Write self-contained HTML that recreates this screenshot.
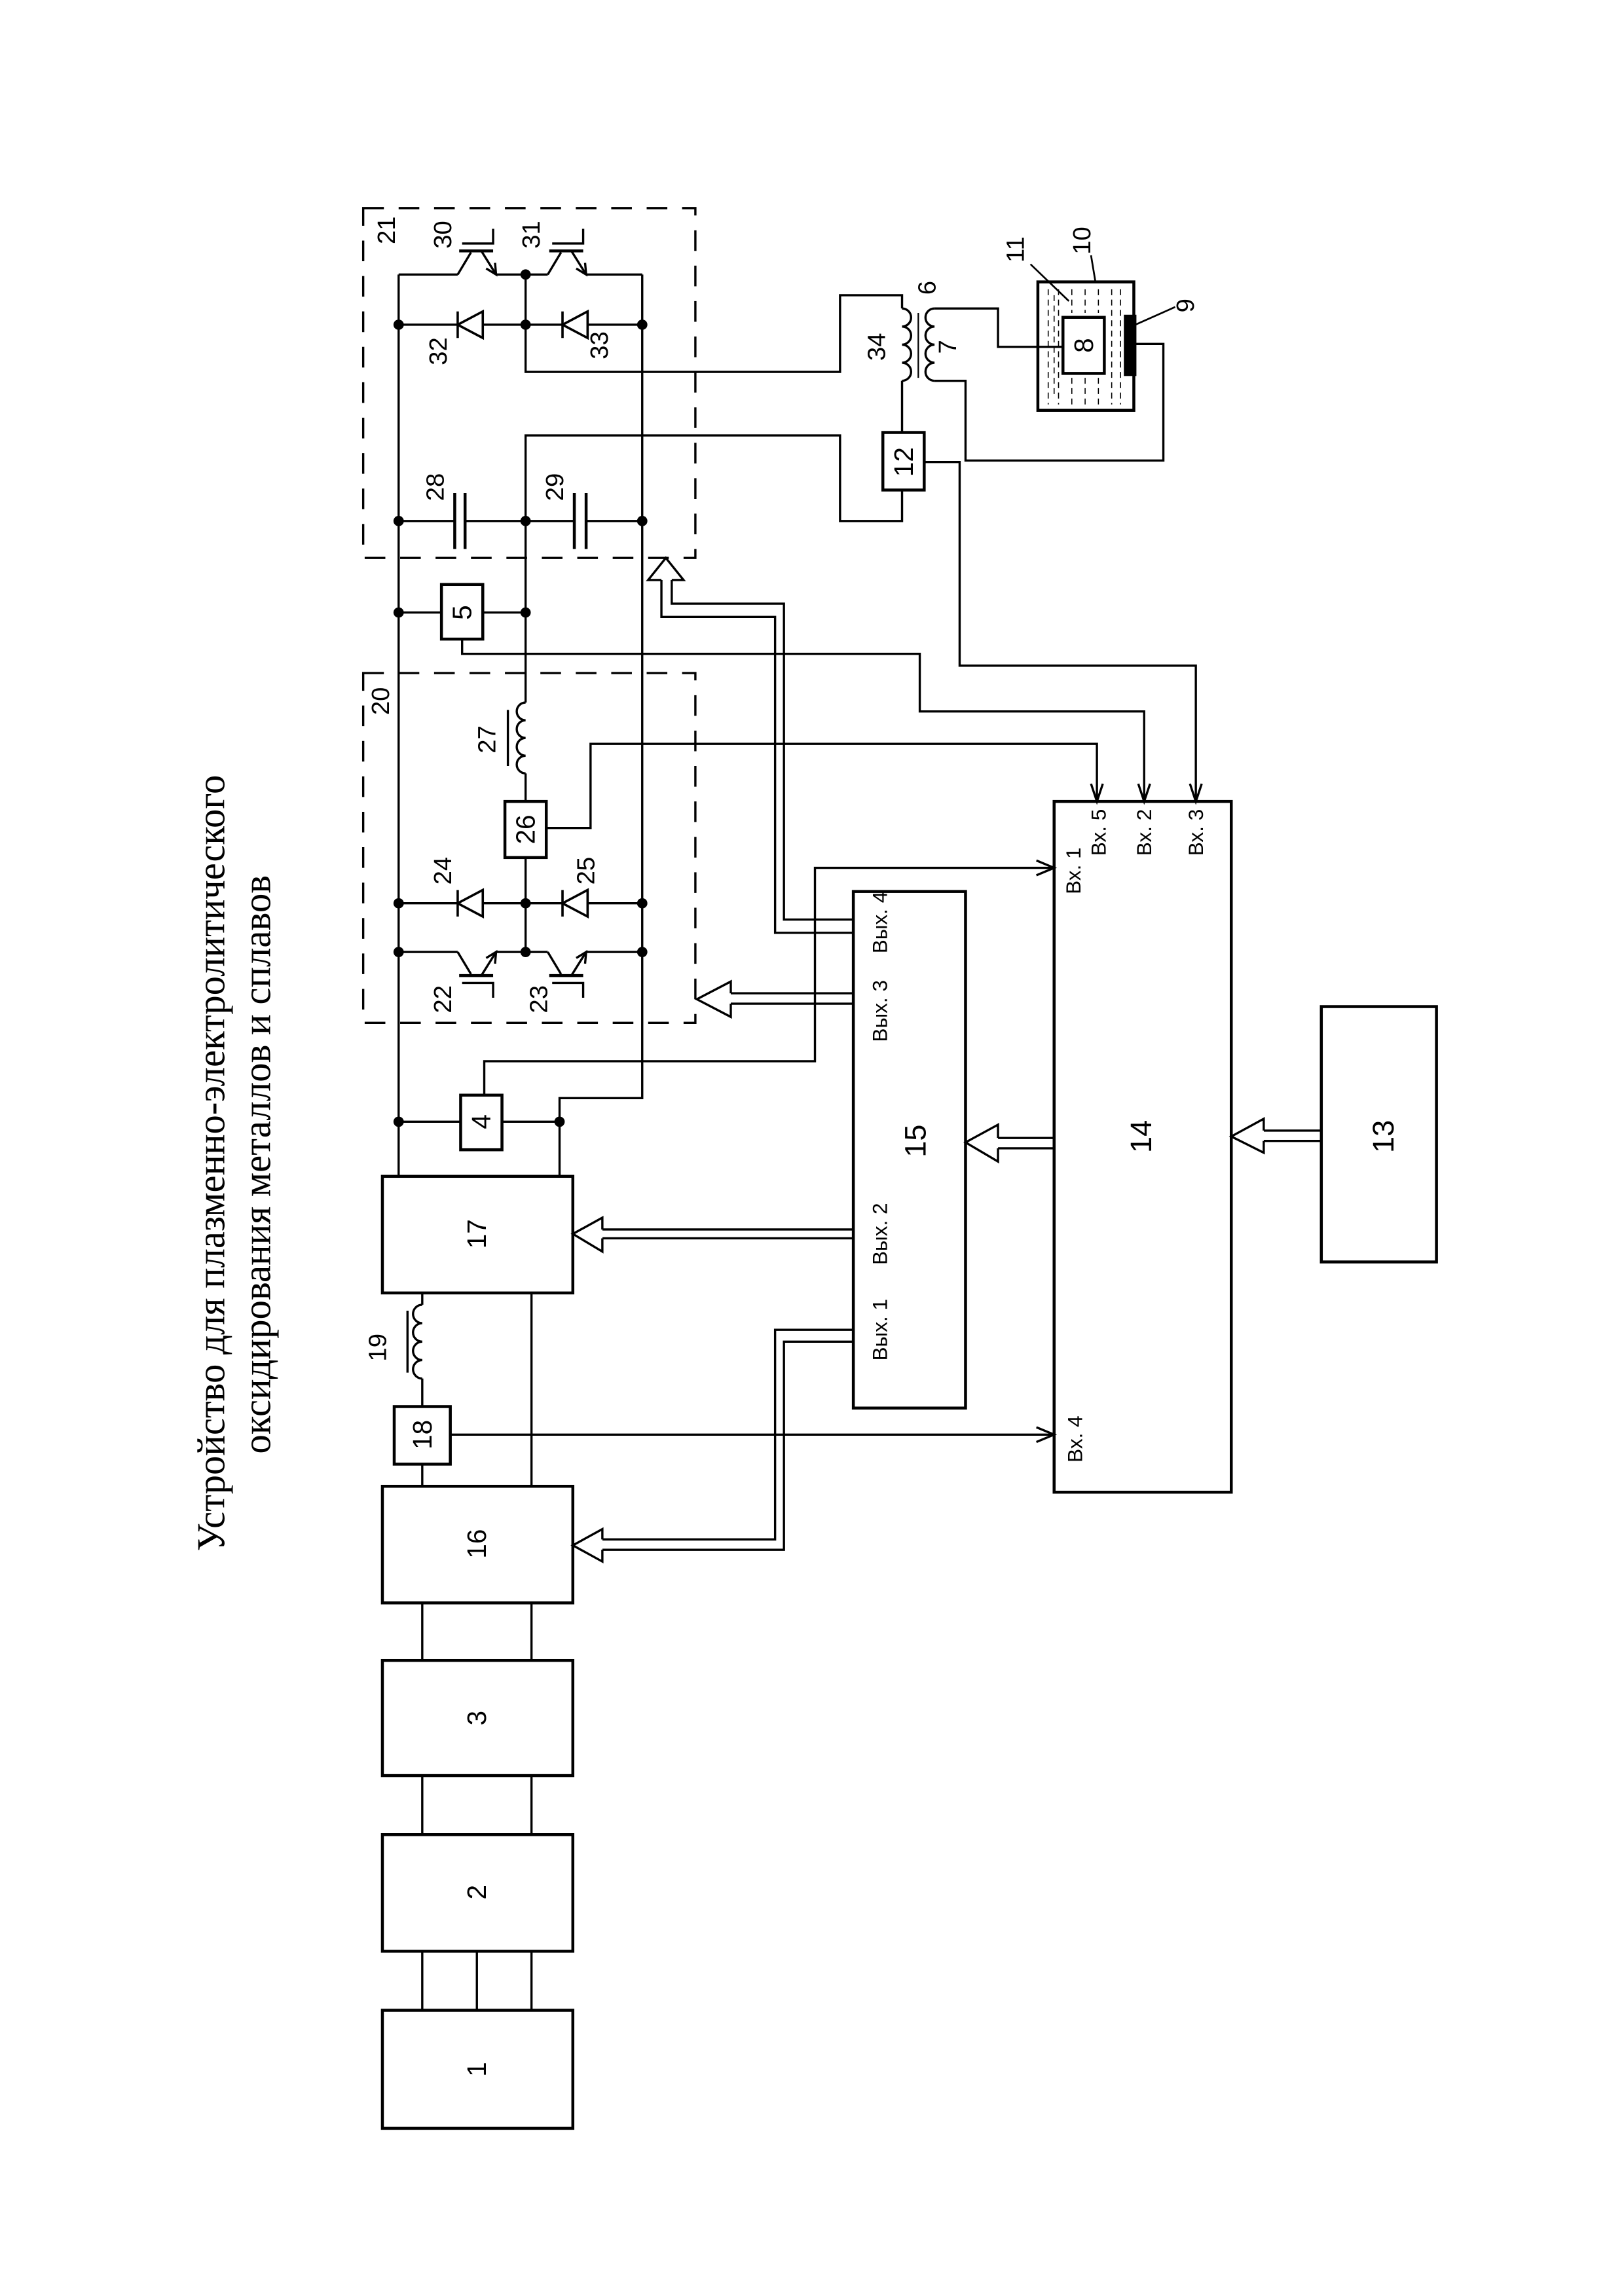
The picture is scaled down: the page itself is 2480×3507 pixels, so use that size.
<!DOCTYPE html>
<html><head><meta charset="utf-8">
<style>
html,body{margin:0;padding:0;background:#fff;}
svg{display:block;}
text{font-family:"Liberation Sans","DejaVu Sans",sans-serif;fill:#000;}
</style></head>
<body>
<svg xmlns="http://www.w3.org/2000/svg" width="2480" height="3507" viewBox="0 0 1100 1555.6">
<rect x="0" y="0" width="1100" height="1555.6" fill="#fff"/>
<g fill="none" stroke="#000" stroke-width="1.5" stroke-linecap="square">

<!-- title -->
</g>
<text transform="translate(152,788) rotate(-90)" text-anchor="middle" style="font-family:'Liberation Serif',serif" font-size="27" textLength="526" lengthAdjust="spacingAndGlyphs">Устройство для плазменно-электролитического</text>
<text transform="translate(183,789) rotate(-90)" text-anchor="middle" style="font-family:'Liberation Serif',serif" font-size="27" textLength="392" lengthAdjust="spacingAndGlyphs">оксидирования металлов и сплавов</text>

<g fill="none" stroke="#000" stroke-width="1.5">
<!-- dashed blocks -->
<rect x="246" y="141" width="225" height="237" stroke-dasharray="14 10"/>
<rect x="246" y="456" width="225" height="237" stroke-dasharray="14 10"/>

<!-- rails -->
<path d="M270 186 V797"/>
<path d="M435 186 V744 H379 V797"/>
<path d="M270 186 H310 M336 186 H371 M397 186 H435"/>
<path d="M356 186 V252 H569 V200 H611 V209"/>
<path d="M611 258 V293"/>
<path d="M611 332 V353 H569 V295 H356 V476"/>
<path d="M356 524 V543 M356 581 V645"/>
<path d="M270 645 H310 M336 645 H371 M397 645 H435"/>

<!-- diode rows -->
<path d="M270 220 H435"/>
<path d="M270 612 H435"/>
<!-- capacitor row -->
<path d="M270 353 H308 M315 353 H389 M397 353 H435"/>
<path d="M308 334 V372 M315 334 V372 M389 334 V372 M397 334 V372" stroke-width="2"/>

<!-- 5 row -->
<path d="M270 415 H299 M327 415 H356"/>
<rect x="299" y="396" width="28" height="37" stroke-width="2"/>
<path d="M313 433 V443 H623 V482 H775 V543"/>
<polyline points="771,531 775,543 779,531"/>

<!-- 12 -->
<rect x="598" y="293" width="28" height="39" stroke-width="2"/>
<path d="M626 313 H650 V451 H810 V543"/>
<polyline points="806,531 810,543 814,531"/>

<!-- 26 -->
<rect x="342" y="543" width="28" height="38" stroke-width="2"/>
<path d="M370 561 H400 V504 H743 V543"/>
<polyline points="739,531 743,543 747,531"/>

<!-- inductor 27 -->
<path d="M356 476 a6 6 0 0 0 0 12 a6 6 0 0 0 0 12 a6 6 0 0 0 0 12 a6 6 0 0 0 0 12"/>
<path d="M344 481 V519"/>

<!-- transformer -->
<path d="M611 209 a6.1 6.1 0 0 1 0 12.25 a6.1 6.1 0 0 1 0 12.25 a6.1 6.1 0 0 1 0 12.25 a6.1 6.1 0 0 1 0 12.25"/>
<path d="M633 209 a6.1 6.1 0 0 0 0 12.25 a6.1 6.1 0 0 0 0 12.25 a6.1 6.1 0 0 0 0 12.25 a6.1 6.1 0 0 0 0 12.25"/>
<path d="M622 212 V256" stroke-width="1"/>
<path d="M633 209 H676 V235 H720"/>
<path d="M633 258 H654 V312 H788 V233 H769"/>

<!-- vessel -->
<rect x="703" y="191" width="65" height="87" stroke-width="2"/>
<g stroke-width="0.7" stroke-dasharray="4 3">
<path d="M710 196 V274 M717 196 V274 M726 196 V212 M735 196 V212 M744 196 V212 M753 196 V274 M759 196 V274 M726 256 V274 M735 256 V274 M744 256 V274 M714 200 V270"/>
</g>
<rect x="720" y="215" width="28" height="38" stroke-width="2" fill="#fff"/>
<rect x="762" y="214" width="7" height="40" fill="#000"/>
<path d="M698 179 L724 204 M739 173 L742 191 M796 208 L769 220" stroke-width="1.2"/>

<!-- 4 row -->
<path d="M270 760 H312 M340 760 H379"/>
<rect x="312" y="742" width="28" height="37" stroke-width="2"/>
<path d="M328 742 V719 H552 V588 H714"/>
<polyline points="702,583 714,588 702,593"/>

<!-- 17 -->
<rect x="259" y="797" width="129" height="79" stroke-width="2"/>
<path d="M286 876 V884 M286 934 V953 M360 876 V1007"/>
<path d="M286 884 a6.25 6.25 0 0 0 0 12.5 a6.25 6.25 0 0 0 0 12.5 a6.25 6.25 0 0 0 0 12.5 a6.25 6.25 0 0 0 0 12.5"/>
<path d="M276 888 V930"/>
<!-- 18 -->
<rect x="267" y="953" width="38" height="39" stroke-width="2"/>
<path d="M286 992 V1007"/>
<path d="M305 972 H714"/>
<polyline points="702,967 714,972 702,977"/>
<!-- 16 -->
<rect x="259" y="1007" width="129" height="79" stroke-width="2"/>
<path d="M286 1086 V1125 M360 1086 V1125"/>
<rect x="259" y="1125" width="129" height="78" stroke-width="2"/>
<path d="M286 1203 V1243 M360 1203 V1243"/>
<rect x="259" y="1243" width="129" height="79" stroke-width="2"/>
<path d="M286 1322 V1362 M323 1322 V1362 M360 1322 V1362"/>
<rect x="259" y="1362" width="129" height="80" stroke-width="2"/>

<!-- 15, 14, 13 -->
<rect x="578" y="604" width="76" height="350" stroke-width="2"/>
<rect x="714" y="543" width="120" height="468" stroke-width="2"/>
<rect x="895" y="682" width="78" height="173" stroke-width="2"/>

<!-- hollow double arrows -->
<path d="M578 623 H531 V409 H455 V393 M578 632 H525 V418 H448 V393"/>
<polyline points="448,393 439,393 451,378 463,393 455,393" fill="#fff"/>
<path d="M578 673 H495 M578 680 H495"/>
<polyline points="495,673 495,665 472,677 495,689 495,680" fill="#fff"/>
<path d="M578 833 H408 M578 839 H408"/>
<polyline points="408,833 408,825 388,836 408,848 408,839" fill="#fff"/>
<path d="M578 901 H525 V1043 H408 M578 909 H531 V1050 H408"/>
<polyline points="408,1043 408,1036 388,1047 408,1058 408,1050" fill="#fff"/>
<path d="M714 771 H676 M714 778 H676"/>
<polyline points="676,771 676,762 654,774 676,787 676,778" fill="#fff"/>
<path d="M895 766 H856 M895 773 H856"/>
<polyline points="856,766 856,758 834,770 856,781 856,773" fill="#fff"/>

<!-- transistors top -->
<g transform="translate(310,186)">
<path d="M0 0 L9 -15 M16 -16 L26 0"/><path d="M1 -16 H24" stroke-width="2"/><path d="M3 -21 H24 V-31"/>
<polyline points="25.3,-7.9 26,0 19.3,-4.1"/></g>
<g transform="translate(371,186)">
<path d="M0 0 L9 -15 M16 -16 L26 0"/><path d="M1 -16 H24" stroke-width="2"/><path d="M3 -21 H24 V-31"/>
<polyline points="25.3,-7.9 26,0 19.3,-4.1"/></g>
<!-- transistors bottom -->
<g transform="translate(310,645) scale(1,-1)">
<path d="M0 0 L9 -15 M16 -16 L26 0"/><path d="M1 -16 H24" stroke-width="2"/><path d="M3 -21 H24 V-31"/>
<polyline points="25.3,-7.9 26,0 19.3,-4.1"/></g>
<g transform="translate(371,645) scale(1,-1)">
<path d="M0 0 L9 -15 M16 -16 L26 0"/><path d="M1 -16 H24" stroke-width="2"/><path d="M3 -21 H24 V-31"/>
<polyline points="25.3,-7.9 26,0 19.3,-4.1"/></g>

<!-- diodes -->
<g fill="#fff" stroke-width="1.6">
<path d="M310 211 V229"/><polygon points="310,220 327,211 327,229"/>
<path d="M381 211 V229"/><polygon points="381,220 398,211 398,229"/>
<path d="M310 603 V621"/><polygon points="310,612 327,603 327,621"/>
<path d="M381 603 V621"/><polygon points="381,612 398,603 398,621"/>
</g>
</g>

<!-- nodes -->
<g fill="#000">
<circle cx="356" cy="186" r="3.5"/>
<circle cx="270" cy="220" r="3.5"/><circle cx="356" cy="220" r="3.5"/><circle cx="435" cy="220" r="3.5"/>
<circle cx="270" cy="353" r="3.5"/><circle cx="356" cy="353" r="3.5"/><circle cx="435" cy="353" r="3.5"/>
<circle cx="270" cy="415" r="3.5"/><circle cx="356" cy="415" r="3.5"/>
<circle cx="270" cy="612" r="3.5"/><circle cx="356" cy="612" r="3.5"/><circle cx="435" cy="612" r="3.5"/>
<circle cx="270" cy="645" r="3.5"/><circle cx="356" cy="645" r="3.5"/><circle cx="435" cy="645" r="3.5"/>
<circle cx="270" cy="760" r="3.5"/><circle cx="379" cy="760" r="3.5"/>
</g>

<!-- labels -->
<g text-anchor="middle" dominant-baseline="central" font-size="17">
<text transform="translate(262,156) rotate(-90)">21</text>
<text transform="translate(258,475) rotate(-90)">20</text>
<text transform="translate(300,159) rotate(-90)">30</text>
<text transform="translate(360,159) rotate(-90)">31</text>
<text transform="translate(297,238) rotate(-90)">32</text>
<text transform="translate(406,234) rotate(-90)">33</text>
<text transform="translate(295,330) rotate(-90)">28</text>
<text transform="translate(376,330) rotate(-90)">29</text>
<text transform="translate(330,501) rotate(-90)">27</text>
<text transform="translate(300,590) rotate(-90)">24</text>
<text transform="translate(397,590) rotate(-90)">25</text>
<text transform="translate(300,677) rotate(-90)">22</text>
<text transform="translate(365,677) rotate(-90)">23</text>
<text transform="translate(256,913) rotate(-90)">19</text>
<text transform="translate(594,235) rotate(-90)">34</text>
<text transform="translate(628,195) rotate(-90)">6</text>
<text transform="translate(642,235) rotate(-90)">7</text>
<text transform="translate(688,169) rotate(-90)">11</text>
<text transform="translate(733,163) rotate(-90)">10</text>
<text transform="translate(803,207) rotate(-90)">9</text>
</g>
<g text-anchor="middle" dominant-baseline="central" font-size="18">
<text transform="translate(313,415) rotate(-90)">5</text>
<text transform="translate(356,562) rotate(-90)">26</text>
<text transform="translate(612,313) rotate(-90)">12</text>
<text transform="translate(734,234) rotate(-90)">8</text>
<text transform="translate(326,760) rotate(-90)">4</text>
<text transform="translate(286,972) rotate(-90)">18</text>
<text transform="translate(323,836) rotate(-90)">17</text>
<text transform="translate(323,1046) rotate(-90)">16</text>
<text transform="translate(323,1164) rotate(-90)">3</text>
<text transform="translate(323,1282) rotate(-90)">2</text>
<text transform="translate(323,1402) rotate(-90)">1</text>
<text transform="translate(620,773) rotate(-90)" font-size="20">15</text>
<text transform="translate(773,770) rotate(-90)" font-size="20">14</text>
<text transform="translate(937,770) rotate(-90)" font-size="20">13</text>
</g>
<g text-anchor="middle" dominant-baseline="central" font-size="14">
<text transform="translate(596,625) rotate(-90)">Вых. 4</text>
<text transform="translate(596,685) rotate(-90)">Вых. 3</text>
<text transform="translate(596,836) rotate(-90)">Вых. 2</text>
<text transform="translate(596,901) rotate(-90)">Вых. 1</text>
<text transform="translate(727,590) rotate(-90)">Вх. 1</text>
<text transform="translate(744,564) rotate(-90)">Вх. 5</text>
<text transform="translate(775,564) rotate(-90)">Вх. 2</text>
<text transform="translate(810,564) rotate(-90)">Вх. 3</text>
<text transform="translate(728,975) rotate(-90)">Вх. 4</text>
</g>
</svg>
</body></html>
